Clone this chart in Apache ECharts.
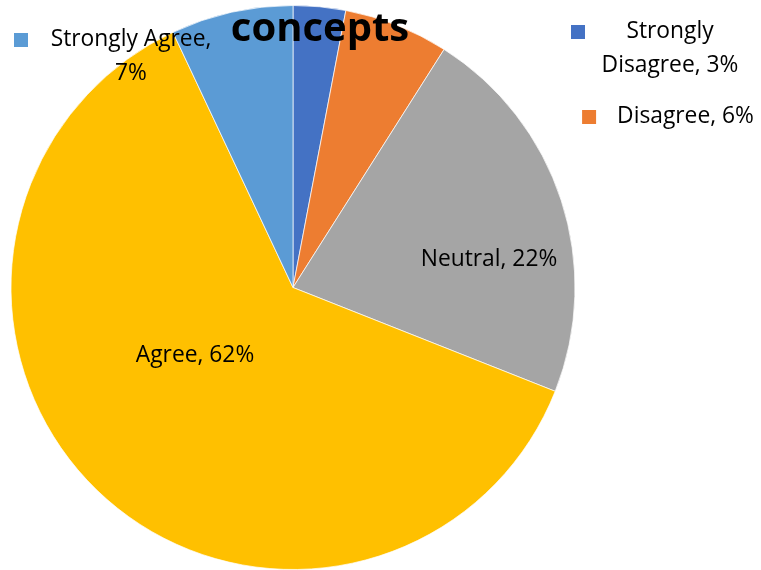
<!DOCTYPE html>
<html>
<head>
<meta charset="utf-8">
<script src="https://cdn.jsdelivr.net/npm/echarts@6/dist/echarts.min.js"></script>
<style>
html,body{margin:0;padding:0;background:#fff;}
#main{width:761px;height:570px;}
</style>
</head>
<body>
<div id="main"></div>
<script>
const titleText = 'concepts';
const categories = ['Strongly Disagree', 'Disagree', 'Neutral', 'Agree', 'Strongly Agree'];
const values = [3, 6, 22, 62, 7];
const colors = ['#4472C4', '#ED7D31', '#A5A5A5', '#FFC000', '#5B9BD5'];

const FONT = 'Open Sans';
const FS = 22.8;

// label placement (label box centers) per slice
const labelPos = [
  {x: 656, y: 49},
  {x: 668, y: 117},
  {x: 489, y: 260},
  {x: 195, y: 356},
  {x: 114, y: 57}
];

function labelFormatter(p) {
  const i = p.dataIndex;
  const name = p.name;
  const pct = p.percent.toFixed(0) + '%';
  if (i === 0) {
    return '{sq0|}{g0|}{t0|Strongly}\n{s0|}{t0|Disagree, ' + pct + '}';
  } else if (i === 1) {
    return '{sq1|}{g1|}{t|' + name + ', ' + pct + '}';
  } else if (i === 4) {
    return '{sq4|}{g4|}{t4|Strongly Agree,}\n{s4|}{t4|' + pct + '}';
  }
  return '{t|' + name + ', ' + pct + '}';
}

const baseText = {fontFamily: FONT, fontSize: FS, color: '#000', lineHeight: 34};
const rich = {
  t: Object.assign({}, baseText, {align: 'center'}),
  sq0: {width: 14, height: 14, backgroundColor: colors[0], align: 'left'},
  g0: {width: 14, align: 'left'},
  s0: {width: 28, align: 'left'},
  t0: Object.assign({}, baseText, {width: 142, align: 'center'}),
  sq1: {width: 14, height: 14, backgroundColor: colors[1], align: 'left'},
  g1: {width: 21, align: 'left'},
  sq4: {width: 14, height: 14, backgroundColor: colors[4], align: 'left'},
  g4: {width: 20, align: 'left'},
  s4: {width: 34, align: 'left'},
  t4: Object.assign({}, baseText, {width: 166, align: 'center'})
};

const chart = echarts.init(document.getElementById('main'), null, {renderer: 'canvas'});
chart.setOption({
  animation: false,
  backgroundColor: '#fff',
  title: {
    text: titleText,
    left: 315,
    textAlign: 'center',
    top: 5,
    z: 10,
    textStyle: {fontFamily: FONT, fontWeight: 'bold', fontSize: 40, color: '#000'}
  },
  series: [{
    type: 'pie',
    center: [293, 287.5],
    radius: [0, 282],
    startAngle: 90,
    clockwise: true,
    data: categories.map((c, i) => ({name: c, value: values[i], itemStyle: {color: colors[i]}})),
    itemStyle: {borderColor: '#fff', borderWidth: 0.7},
    label: {
      show: true,
      position: 'inside',
      formatter: labelFormatter,
      rich: rich,
      fontFamily: FONT,
      fontSize: FS,
      color: '#000'
    },
    labelLine: {show: false},
    labelLayout: function (p) {
      const pos = labelPos[p.dataIndex];
      return {x: pos.x, y: pos.y, align: 'center', verticalAlign: 'middle', hideOverlap: false, moveOverlap: false};
    },
    emphasis: {disabled: true}
  }]
});
</script>
</body>
</html>
